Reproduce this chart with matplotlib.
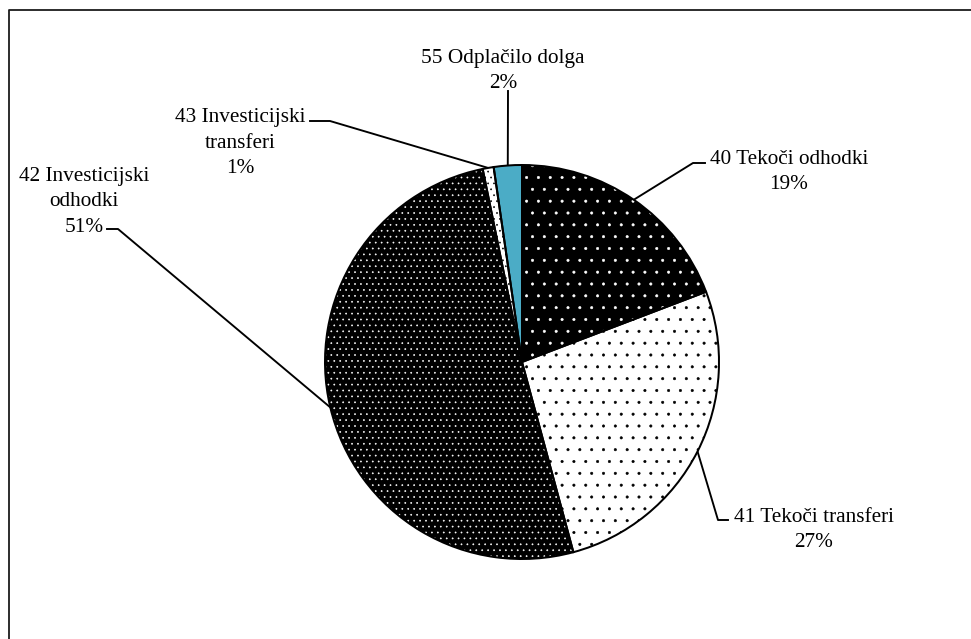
import numpy as np
import matplotlib
matplotlib.use('Agg')
from matplotlib import pyplot as plt

categories = ['40 Tekoči odhodki', '41 Tekoči transferi', '42 Investicijski\nodhodki',
              '43 Investicijski\ntransferi', '55 Odplačilo dolga']
shares = [19.2, 26.6, 51.0, 0.9, 2.3]

W, H, DPI = 971, 639, 71
CX, CY, R = 522, 362, 197


def pt(px):
    return px * 72 / DPI


def dat(x, y):
    # pixel position (top-left origin) -> data units, pie radius = 1
    return (x - CX) / R, (CY - y) / R


plt.rcParams['font.family'] = ['Liberation Serif', 'DejaVu Serif']
plt.rcParams['hatch.linewidth'] = 0.6

fig = plt.figure(figsize=(W / DPI, H / DPI), dpi=DPI)
ax = fig.add_axes([0, 0, 1, 1])

faces = ['black', 'white', 'black', 'white', '#4bacc6']
hatches = ['.', '.', '..', '..', None]
dots = ['white', 'black', 'white', 'black', '#4bacc6']

wedges, _ = ax.pie(shares, startangle=90, counterclock=False, colors=faces)
for w, h, c in zip(wedges, hatches, dots):
    w.set_hatch(h)
    w.set_edgecolor(c)
    w.set_linewidth(0)
ax.pie(shares, startangle=90, counterclock=False,
       wedgeprops=dict(fill=False, edgecolor='black', linewidth=pt(2.0)))

ax.set_xlim(dat(0, 0)[0], dat(W, 0)[0])
ax.set_ylim(dat(0, H)[1], dat(0, 0)[1])
ax.axis('off')

text_pos = [(789, 172), (814, 530), (84, 202), (240, 143), (503, 71)]
leaders = [[(693, 163), (705, 163)], [(718, 520), (728, 520)], [(118, 229), (107, 229)],
           [(330, 121), (310, 121)], [(508, 91)]]

for i, w in enumerate(wedges):
    mid = np.deg2rad((w.theta1 + w.theta2) / 2)
    pts = [(np.cos(mid), np.sin(mid))] + [dat(*p) for p in leaders[i]]
    xs, ys = zip(*pts)
    ax.plot(xs, ys, color='black', lw=pt(1.9), zorder=0.5)
    label = categories[i] + '\n' + f'{round(shares[i])}%'
    ax.text(*dat(*text_pos[i]), label, ha='center', va='center',
            fontsize=pt(21.3), linespacing=1.45)

# chart area border (right and bottom edges fall outside the image)
ax.plot([dat(8.5, H + 5)[0], dat(8.5, 9.5)[0], dat(W + 5, 9.5)[0]],
        [dat(8.5, H + 5)[1], dat(8.5, 9.5)[1], dat(W + 5, 9.5)[1]],
        color='#1a1a1a', lw=pt(1.8))

fig.savefig('out.png', dpi=DPI)
